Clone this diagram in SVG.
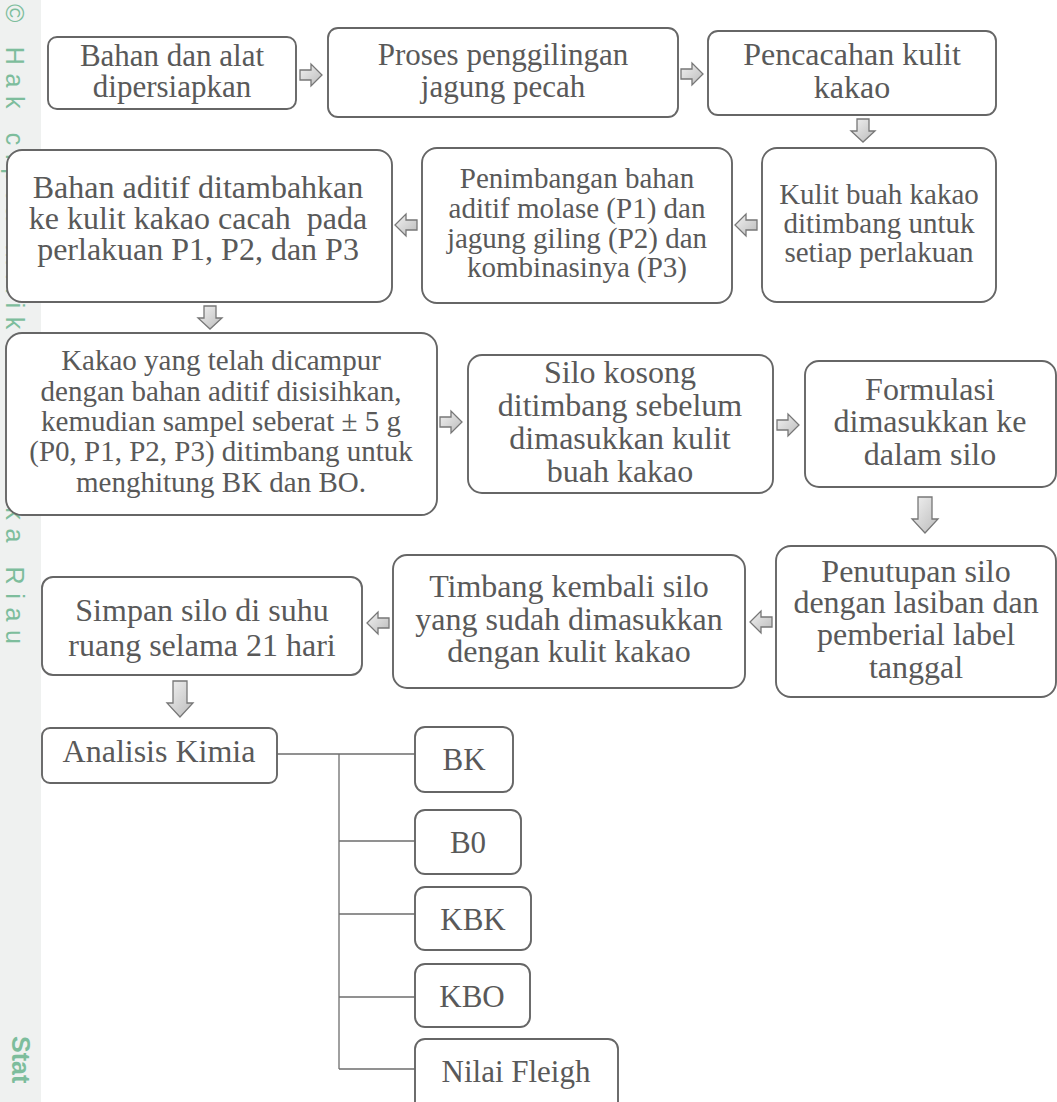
<svg xmlns="http://www.w3.org/2000/svg" width="1057" height="1102" viewBox="0 0 1057 1102">
<style>
.box{fill:#ffffff;stroke:#666666;stroke-width:1.9}
.t{font-family:"Liberation Serif","Times New Roman",serif;fill:#595959;text-anchor:middle}
.f32{font-size:32px}
.f31{font-size:31px}
.f29{font-size:29px}
.arr{fill:url(#ag);stroke:#777777;stroke-width:1.3;stroke-linejoin:miter}
.ln{stroke:#6e6e6e;stroke-width:1.3;fill:none}
.wm{font-family:"Liberation Sans","DejaVu Sans",sans-serif;fill:#7dbd9c}
</style>
<defs>
<linearGradient id="ag" x1="0" y1="0" x2="1" y2="1">
<stop offset="0" stop-color="#f2f2f2"/>
<stop offset="1" stop-color="#bbbbbb"/>
</linearGradient>
<path id="aR" d="M-11,-5 H0 V-11 L11,0 L0,11 V5 H-11 Z"/>
<path id="aL" d="M11,-5 H0 V-11 L-11,0 L0,11 V5 H11 Z"/>
<path id="aD" d="M-6,-12 H6 V0 H12 L0,11 L-12,0 H-6 Z"/>
<path id="aDL" d="M-7,-18 H7 V4 H13 L0,18 L-13,4 H-7 Z"/>
</defs>
<rect width="1057" height="1102" fill="#ffffff"/>
<g id="watermark">
<rect x="0" y="0" width="41" height="1102" fill="#eff1f0"/>
<text class="wm" font-size="25" transform="translate(6,4) rotate(90)" textLength="640" lengthAdjust="spacing">© Hak cipta milik UIN Suska Riau</text>
<text class="wm" font-size="25" font-weight="bold" transform="translate(12,1036) rotate(90)">Stat</text>
</g>
<g id="connectors">
<use href="#aR" class="arr" x="311" y="75"/>
<use href="#aR" class="arr" x="692" y="74"/>
<use href="#aD" class="arr" x="863" y="131"/>
<use href="#aL" class="arr" x="746" y="225"/>
<use href="#aL" class="arr" x="406" y="225"/>
<use href="#aD" class="arr" x="210" y="318"/>
<use href="#aR" class="arr" x="451" y="422"/>
<use href="#aR" class="arr" x="788" y="425"/>
<use href="#aDL" class="arr" x="925" y="515"/>
<use href="#aL" class="arr" x="761" y="622"/>
<use href="#aL" class="arr" x="378" y="623"/>
<use href="#aDL" class="arr" x="180" y="699"/>
<path class="ln" d="M277,754 H415 M339,754 V1069 M339,841 H415 M339,914 H415 M339,997 H415 M339,1069 H415"/>
</g>
<g id="n1"><rect class="box" x="48" y="37" width="248" height="72" rx="9"/>
<text class="t f31"><tspan x="172" y="66">Bahan dan alat</tspan><tspan x="172" y="97">dipersiapkan</tspan></text></g>
<g id="n2"><rect class="box" x="328" y="28" width="350" height="89" rx="10"/>
<text class="t f31"><tspan x="503" y="65">Proses penggilingan</tspan><tspan x="503" y="97">jagung pecah</tspan></text></g>
<g id="n3"><rect class="box" x="708" y="31" width="288" height="84" rx="10"/>
<text class="t f32"><tspan x="852" y="65">Pencacahan kulit</tspan><tspan x="852" y="98">kakao</tspan></text></g>
<g id="n4"><rect class="box" x="762" y="148" width="234" height="154" rx="15"/>
<text class="t f29"><tspan x="879" y="204">Kulit buah kakao</tspan><tspan x="879" y="233">ditimbang untuk</tspan><tspan x="879" y="262">setiap perlakuan</tspan></text></g>
<g id="n5"><rect class="box" x="422" y="148" width="310" height="155" rx="15"/>
<text class="t f29"><tspan x="577" y="188">Penimbangan bahan</tspan><tspan x="577" y="218">aditif molase (P1) dan</tspan><tspan x="577" y="248">jagung giling (P2) dan</tspan><tspan x="577" y="277">kombinasinya (P3)</tspan></text></g>
<g id="n6"><rect class="box" x="7" y="150" width="385" height="152" rx="15"/>
<text class="t f32"><tspan x="198" y="198">Bahan aditif ditambahkan</tspan><tspan x="198" y="229">ke kulit kakao cacah&#160; pada</tspan><tspan x="198" y="260">perlakuan P1, P2, dan P3</tspan></text></g>
<g id="n7"><rect class="box" x="6" y="333" width="431" height="182" rx="16"/>
<text class="t f29"><tspan x="221" y="370">Kakao yang telah dicampur</tspan><tspan x="221" y="401">dengan bahan aditif disisihkan,</tspan><tspan x="221" y="431">kemudian sampel seberat ± 5 g</tspan><tspan x="221" y="461">(P0, P1, P2, P3) ditimbang untuk</tspan><tspan x="221" y="492">menghitung BK dan BO.</tspan></text></g>
<g id="n8"><rect class="box" x="468" y="355" width="305" height="138" rx="14"/>
<text class="t f32"><tspan x="620" y="383">Silo kosong</tspan><tspan x="620" y="416">ditimbang sebelum</tspan><tspan x="620" y="449">dimasukkan kulit</tspan><tspan x="620" y="482">buah kakao</tspan></text></g>
<g id="n9"><rect class="box" x="805" y="361" width="251" height="126" rx="14"/>
<text class="t f32"><tspan x="930" y="400">Formulasi</tspan><tspan x="930" y="432">dimasukkan ke</tspan><tspan x="930" y="465">dalam silo</tspan></text></g>
<g id="n10"><rect class="box" x="776" y="546" width="280" height="151" rx="15"/>
<text class="t f32"><tspan x="916" y="582">Penutupan silo</tspan><tspan x="916" y="613">dengan lasiban dan</tspan><tspan x="916" y="645">pemberial label</tspan><tspan x="916" y="678">tanggal</tspan></text></g>
<g id="n11"><rect class="box" x="393" y="555" width="352" height="133" rx="14"/>
<text class="t f32"><tspan x="569" y="597">Timbang kembali silo</tspan><tspan x="569" y="630">yang sudah dimasukkan</tspan><tspan x="569" y="662">dengan kulit kakao</tspan></text></g>
<g id="n12"><rect class="box" x="42" y="577" width="320" height="98" rx="11"/>
<text class="t f32"><tspan x="202" y="621">Simpan silo di suhu</tspan><tspan x="202" y="656">ruang selama 21 hari</tspan></text></g>
<g id="n13"><rect class="box" x="42" y="728" width="235" height="55" rx="8"/>
<text class="t f32" x="159" y="762">Analisis Kimia</text></g>
<g id="n14"><rect class="box" x="415" y="727" width="98" height="65" rx="10"/>
<text class="t f31" x="464" y="770">BK</text></g>
<g id="n15"><rect class="box" x="415" y="810" width="106" height="64" rx="10"/>
<text class="t f31" x="468" y="853">B0</text></g>
<g id="n16"><rect class="box" x="415" y="887" width="116" height="63" rx="10"/>
<text class="t f31" x="473" y="930">KBK</text></g>
<g id="n17"><rect class="box" x="415" y="964" width="115" height="63" rx="10"/>
<text class="t f31" x="472" y="1007">KBO</text></g>
<g id="n18"><rect class="box" x="415" y="1039" width="203" height="75" rx="10"/>
<text class="t f31" x="516" y="1082">Nilai Fleigh</text></g>
</svg>
